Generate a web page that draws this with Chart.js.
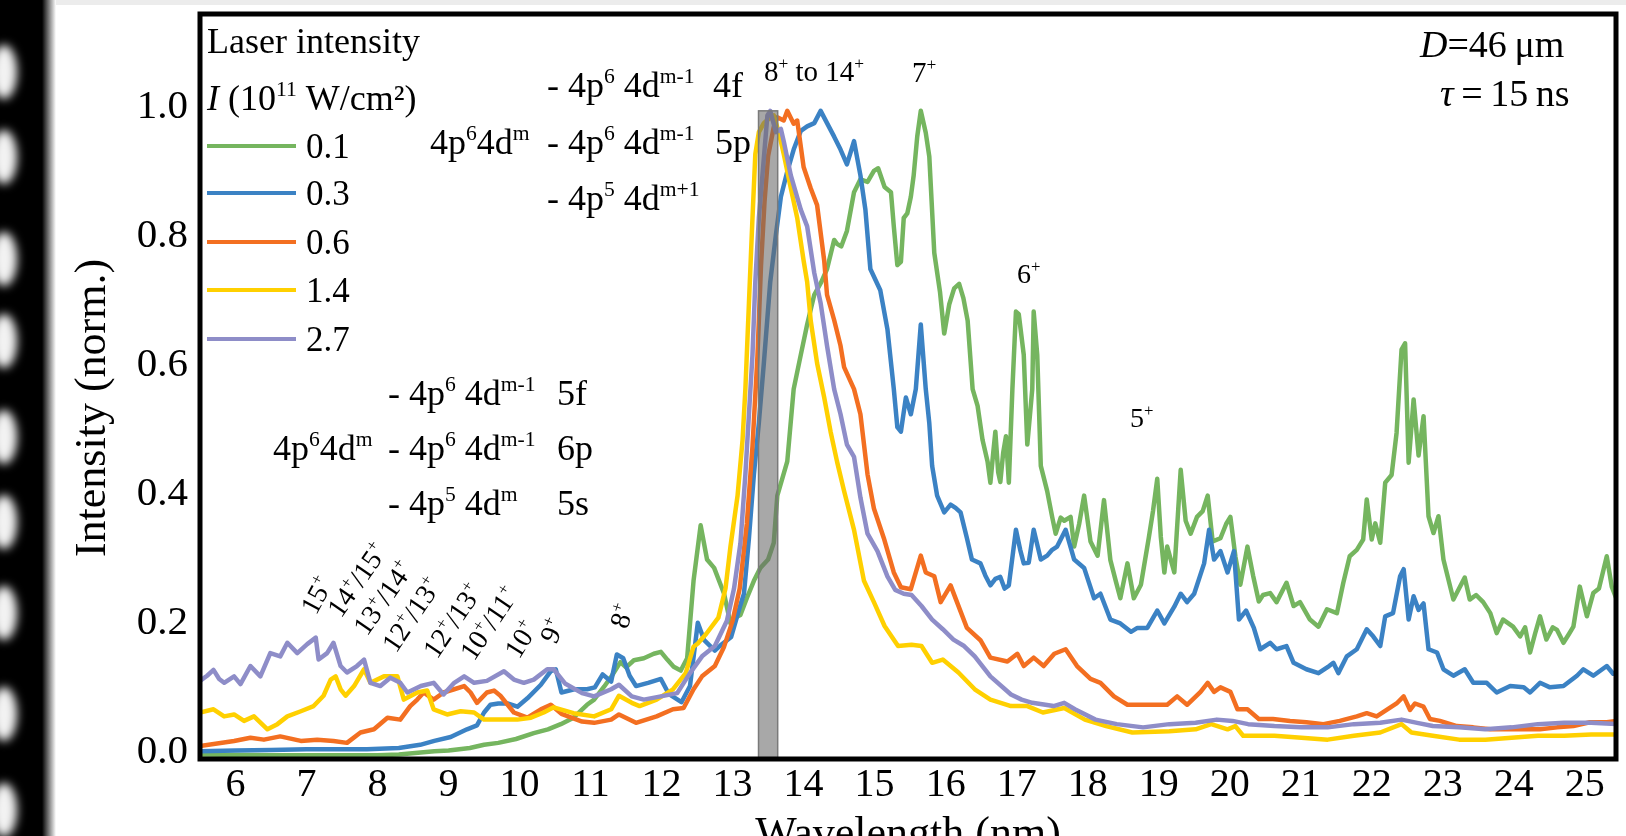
<!DOCTYPE html>
<html>
<head>
<meta charset="utf-8">
<script src="https://cdn.jsdelivr.net/npm/chart.js@4.4.0/dist/chart.umd.min.js"></script>
<style>
  html, body { margin: 0; padding: 0; background: #fff; }
  #wrap { width: 1626px; height: 836px; position: relative; }
</style>
</head>
<body>
<div id="wrap"><canvas id="spectra" width="1626" height="836"></canvas></div>
<script>
// [wavelength nm, normalised intensity], one list per laser intensity
const green01 = [[5.5,.003],[6.5,.002],[7.5,.002],[8.0,.002],[8.3,.003],[8.8,.008],[9.0,.009],[9.3,.013],[9.5,.018],[9.7,.021],[9.95,.027],[10.2,.036],[10.4,.042],[10.58,.05],[10.76,.06],[10.95,.08],[11.05,.088],[11.19,.108],[11.3,.125],[11.42,.146],[11.5,.138],[11.61,.149],[11.75,.152],[11.89,.159],[11.99,.162],[12.08,.15],[12.17,.139],[12.27,.133],[12.36,.152],[12.45,.272],[12.55,.358],[12.64,.305],[12.74,.292],[12.88,.252],[12.97,.206],[13.04,.215],[13.11,.219],[13.2,.245],[13.3,.272],[13.39,.292],[13.5,.305],[13.58,.331],[13.63,.404],[13.77,.457],[13.86,.569],[13.96,.622],[14.05,.669],[14.15,.715],[14.25,.735],[14.33,.755],[14.43,.8],[14.47,.794],[14.53,.79],[14.61,.814],[14.71,.874],[14.8,.894],[14.9,.89],[14.99,.907],[15.05,.911],[15.14,.882],[15.23,.874],[15.27,.821],[15.32,.761],[15.37,.766],[15.41,.834],[15.46,.841],[15.51,.867],[15.55,.9],[15.6,.96],[15.65,1.0],[15.72,.966],[15.77,.929],[15.84,.78],[15.92,.72],[15.98,.655],[16.05,.7],[16.12,.725],[16.19,.732],[16.25,.71],[16.31,.675],[16.38,.569],[16.45,.543],[16.52,.49],[16.59,.457],[16.63,.424],[16.67,.47],[16.7,.503],[16.74,.44],[16.77,.425],[16.81,.47],[16.85,.496],[16.89,.424],[16.94,.569],[16.99,.689],[17.03,.685],[17.1,.622],[17.15,.483],[17.22,.569],[17.24,.689],[17.29,.622],[17.34,.45],[17.43,.411],[17.5,.371],[17.55,.345],[17.62,.37],[17.67,.365],[17.76,.371],[17.81,.325],[17.88,.36],[17.95,.404],[18.04,.333],[18.14,.311],[18.23,.397],[18.32,.304],[18.4,.27],[18.46,.245],[18.56,.299],[18.65,.245],[18.75,.266],[18.86,.338],[18.92,.38],[18.98,.43],[19.03,.34],[19.08,.285],[19.12,.325],[19.22,.285],[19.31,.444],[19.38,.365],[19.45,.345],[19.54,.371],[19.62,.38],[19.69,.404],[19.76,.333],[19.87,.338],[19.95,.36],[20.01,.371],[20.08,.31],[20.15,.266],[20.25,.325],[20.33,.28],[20.41,.24],[20.47,.25],[20.57,.253],[20.66,.239],[20.8,.269],[20.9,.233],[20.99,.239],[21.13,.212],[21.25,.201],[21.37,.228],[21.51,.222],[21.6,.269],[21.69,.31],[21.79,.32],[21.88,.336],[21.93,.398],[22.0,.336],[22.05,.361],[22.12,.331],[22.19,.424],[22.28,.436],[22.35,.501],[22.42,.63],[22.47,.64],[22.52,.455],[22.59,.553],[22.66,.466],[22.73,.527],[22.8,.372],[22.87,.346],[22.94,.372],[23.01,.305],[23.15,.243],[23.23,.26],[23.31,.277],[23.38,.243],[23.47,.25],[23.57,.239],[23.67,.222],[23.76,.191],[23.85,.212],[23.99,.201],[24.09,.186],[24.16,.2],[24.23,.161],[24.3,.19],[24.37,.217],[24.46,.181],[24.55,.2],[24.61,.196],[24.7,.176],[24.78,.19],[24.84,.201],[24.93,.263],[24.98,.24],[25.03,.217],[25.12,.253],[25.2,.26],[25.31,.31],[25.38,.263],[25.45,.243]];

const blue03 = [[5.5,.008],[6.0,.009],[6.5,.01],[7.0,.011],[7.4,.011],[7.85,.011],[8.3,.013],[8.6,.018],[8.8,.024],[9.03,.03],[9.26,.042],[9.4,.048],[9.5,.068],[9.59,.08],[9.7,.082],[9.83,.082],[9.97,.077],[10.11,.09],[10.3,.111],[10.44,.132],[10.51,.135],[10.59,.099],[10.77,.104],[10.95,.104],[11.06,.107],[11.17,.127],[11.29,.116],[11.37,.158],[11.46,.152],[11.55,.125],[11.64,.109],[11.81,.114],[11.99,.12],[12.1,.097],[12.28,.084],[12.4,.109],[12.51,.207],[12.6,.18],[12.75,.164],[12.83,.172],[12.98,.185],[13.1,.231],[13.16,.252],[13.23,.338],[13.3,.437],[13.37,.517],[13.44,.609],[13.53,.735],[13.61,.808],[13.68,.867],[13.77,.906],[13.86,.94],[13.96,.969],[14.05,.976],[14.15,.981],[14.24,1.0],[14.33,.981],[14.43,.96],[14.52,.94],[14.61,.917],[14.71,.953],[14.8,.9],[14.87,.847],[14.94,.755],[15.08,.722],[15.18,.662],[15.27,.569],[15.32,.51],[15.37,.503],[15.44,.556],[15.51,.53],[15.58,.569],[15.65,.669],[15.72,.569],[15.77,.516],[15.81,.45],[15.88,.404],[15.98,.378],[16.07,.39],[16.14,.385],[16.21,.378],[16.3,.338],[16.37,.305],[16.49,.299],[16.56,.28],[16.63,.265],[16.7,.275],[16.77,.278],[16.83,.26],[16.89,.265],[16.99,.351],[17.05,.32],[17.1,.299],[17.17,.3],[17.24,.351],[17.34,.305],[17.43,.311],[17.5,.32],[17.57,.325],[17.69,.351],[17.81,.305],[17.95,.292],[18.09,.245],[18.18,.252],[18.32,.212],[18.46,.206],[18.61,.193],[18.7,.199],[18.84,.199],[18.98,.226],[19.08,.206],[19.22,.232],[19.31,.252],[19.4,.239],[19.5,.252],[19.64,.299],[19.71,.351],[19.78,.305],[19.87,.318],[19.97,.285],[20.06,.318],[20.13,.212],[20.23,.226],[20.34,.199],[20.43,.166],[20.57,.176],[20.66,.166],[20.8,.171],[20.9,.145],[21.08,.135],[21.25,.129],[21.4,.14],[21.46,.145],[21.53,.129],[21.65,.155],[21.79,.166],[21.93,.197],[22.02,.186],[22.12,.171],[22.19,.217],[22.3,.222],[22.4,.279],[22.45,.29],[22.52,.212],[22.59,.248],[22.66,.227],[22.73,.237],[22.8,.166],[22.92,.161],[23.01,.135],[23.15,.125],[23.31,.135],[23.43,.114],[23.62,.114],[23.76,.099],[23.95,.109],[24.14,.107],[24.23,.099],[24.37,.114],[24.51,.107],[24.7,.109],[24.89,.125],[24.98,.135],[25.12,.125],[25.31,.14],[25.4,.128],[25.45,.13]];

const orange06 = [[5.5,.016],[5.98,.024],[6.21,.029],[6.4,.026],[6.63,.031],[6.92,.024],[7.15,.026],[7.38,.024],[7.57,.021],[7.76,.037],[7.95,.042],[8.14,.06],[8.32,.057],[8.46,.078],[8.56,.088],[8.65,.099],[8.79,.088],[8.93,.099],[9.08,.104],[9.22,.109],[9.31,.099],[9.4,.083],[9.54,.099],[9.64,.102],[9.73,.094],[9.92,.068],[10.11,.06],[10.3,.073],[10.44,.08],[10.59,.066],[10.88,.054],[11.05,.052],[11.29,.057],[11.4,.065],[11.64,.052],[11.93,.062],[12.16,.073],[12.31,.075],[12.45,.104],[12.57,.124],[12.75,.14],[12.88,.17],[13.0,.21],[13.1,.26],[13.2,.36],[13.28,.48],[13.35,.62],[13.4,.76],[13.45,.86],[13.5,.93],[13.58,.975],[13.63,.99],[13.72,.985],[13.77,1.0],[13.86,.98],[13.91,.985],[14.0,.913],[14.1,.88],[14.19,.854],[14.29,.768],[14.33,.715],[14.43,.676],[14.52,.636],[14.57,.603],[14.71,.569],[14.8,.53],[14.9,.437],[14.99,.384],[15.13,.338],[15.27,.285],[15.37,.262],[15.51,.259],[15.65,.311],[15.72,.285],[15.84,.279],[15.93,.239],[16.07,.265],[16.16,.239],[16.3,.199],[16.49,.18],[16.63,.153],[16.87,.147],[17.01,.159],[17.1,.14],[17.24,.153],[17.38,.14],[17.53,.159],[17.69,.166],[17.85,.14],[18.04,.12],[18.18,.114],[18.37,.093],[18.56,.08],[18.75,.08],[18.93,.08],[19.12,.08],[19.26,.093],[19.4,.08],[19.59,.1],[19.69,.114],[19.78,.1],[19.87,.107],[20.01,.1],[20.11,.073],[20.25,.073],[20.41,.058],[20.61,.058],[20.85,.055],[21.08,.053],[21.32,.05],[21.55,.055],[21.79,.062],[21.93,.067],[22.07,.062],[22.21,.072],[22.35,.082],[22.45,.093],[22.54,.072],[22.61,.082],[22.73,.077],[22.82,.058],[22.96,.055],[23.2,.047],[23.43,.045],[23.67,.042],[23.9,.042],[24.14,.042],[24.37,.042],[24.61,.045],[24.84,.047],[25.07,.053],[25.31,.053],[25.45,.055]];

const yellow14 = [[5.5,.068],[5.69,.073],[5.84,.062],[5.98,.065],[6.12,.055],[6.26,.062],[6.45,.042],[6.59,.05],[6.73,.062],[6.92,.07],[7.1,.078],[7.24,.094],[7.34,.119],[7.41,.124],[7.48,.104],[7.55,.094],[7.67,.109],[7.81,.135],[7.9,.114],[8.09,.124],[8.28,.124],[8.37,.088],[8.56,.099],[8.7,.102],[8.79,.073],[8.98,.065],[9.17,.07],[9.36,.068],[9.5,.057],[9.73,.057],[9.97,.057],[10.16,.06],[10.34,.068],[10.48,.076],[10.76,.067],[11.05,.062],[11.29,.073],[11.4,.094],[11.58,.083],[11.69,.078],[11.93,.088],[12.16,.104],[12.34,.129],[12.45,.17],[12.51,.175],[12.63,.19],[12.8,.215],[12.9,.26],[12.97,.325],[13.07,.404],[13.14,.49],[13.18,.569],[13.23,.702],[13.28,.834],[13.32,.933],[13.37,.967],[13.44,.981],[13.49,.986],[13.58,.993],[13.65,.967],[13.72,.933],[13.82,.88],[13.91,.834],[14.0,.768],[14.05,.735],[14.1,.675],[14.19,.609],[14.29,.556],[14.38,.503],[14.47,.457],[14.57,.411],[14.71,.351],[14.85,.272],[14.99,.239],[15.14,.202],[15.33,.171],[15.52,.173],[15.66,.171],[15.81,.145],[15.96,.15],[16.18,.13],[16.41,.104],[16.63,.088],[16.92,.078],[17.15,.078],[17.37,.068],[17.67,.075],[17.96,.057],[18.26,.047],[18.63,.037],[19.15,.039],[19.52,.042],[19.74,.05],[19.97,.042],[20.08,.047],[20.19,.032],[20.63,.032],[21.01,.029],[21.38,.026],[21.75,.032],[22.12,.037],[22.42,.05],[22.56,.037],[22.86,.032],[23.23,.026],[23.6,.026],[23.97,.029],[24.34,.032],[24.71,.032],[25.09,.034],[25.45,.034]];

const purple27 = [[5.5,.117],[5.6,.125],[5.69,.134],[5.77,.12],[5.84,.114],[5.98,.124],[6.07,.112],[6.21,.14],[6.35,.124],[6.49,.16],[6.63,.155],[6.73,.176],[6.87,.16],[7.01,.174],[7.13,.184],[7.17,.15],[7.29,.16],[7.38,.176],[7.48,.14],[7.57,.13],[7.71,.14],[7.81,.15],[7.9,.114],[8.04,.109],[8.18,.122],[8.32,.114],[8.42,.099],[8.61,.109],[8.79,.114],[8.93,.096],[9.08,.114],[9.22,.124],[9.36,.114],[9.54,.117],[9.78,.132],[9.92,.119],[10.06,.114],[10.2,.119],[10.39,.135],[10.48,.135],[10.64,.113],[10.88,.098],[11.05,.093],[11.29,.104],[11.4,.111],[11.58,.093],[11.75,.088],[11.99,.093],[12.22,.098],[12.4,.129],[12.57,.155],[12.75,.171],[12.92,.21],[13.02,.26],[13.11,.33],[13.18,.437],[13.23,.53],[13.28,.622],[13.32,.735],[13.37,.834],[13.42,.9],[13.49,.993],[13.53,1.0],[13.61,.967],[13.68,.972],[13.72,.953],[13.82,.9],[13.96,.847],[14.05,.821],[14.15,.749],[14.24,.702],[14.33,.636],[14.43,.569],[14.52,.53],[14.61,.483],[14.71,.464],[14.8,.401],[14.9,.345],[15.04,.318],[15.18,.279],[15.29,.258],[15.41,.252],[15.52,.25],[15.66,.233],[15.81,.212],[15.96,.197],[16.11,.181],[16.26,.171],[16.41,.155],[16.63,.124],[16.92,.096],[17.07,.088],[17.22,.083],[17.52,.078],[17.67,.083],[17.82,.073],[18.11,.057],[18.41,.05],[18.78,.045],[19.15,.05],[19.52,.052],[19.82,.057],[20.04,.055],[20.26,.05],[20.63,.047],[21.01,.045],[21.38,.045],[21.75,.05],[22.12,.052],[22.42,.057],[22.64,.052],[22.86,.047],[23.23,.045],[23.6,.042],[23.97,.045],[24.34,.05],[24.71,.052],[25.09,.052],[25.45,.05]];

const intensityLabels = ["0.1", "0.3", "0.6", "1.4", "2.7"];
const xTicks = [6, 7, 8, 9, 10, 11, 12, 13, 14, 15, 16, 17, 18, 19, 20, 21, 22, 23, 24, 25];
const yTicks = [0, 0.2, 0.4, 0.6, 0.8, 1.0];
const euvBand = [13.365, 13.635]; // 2% bandwidth around 13.5 nm
const euvBandTop = 1.0;

const lineColors = ["#75b55f", "#3b82c4", "#f36f21", "#ffd000", "#8e8dc8"];
const FONT = "'Liberation Serif', 'Times New Roman', serif";

// split "4p^6 4d^{m-1}" into normal / superscript pieces
function parseSup(str) {
  const parts = [];
  const re = /\^\{([^}]*)\}|\^(.)/g;
  let last = 0, m;
  while ((m = re.exec(str))) {
    if (m.index > last) parts.push({ t: str.slice(last, m.index) });
    parts.push({ t: m[1] !== undefined ? m[1] : m[2], s: 1 });
    last = re.lastIndex;
  }
  if (last < str.length) parts.push({ t: str.slice(last) });
  return parts;
}

function drawRich(ctx, x, y, parts, size) {
  let cx = x;
  parts.forEach((p) => {
    const fs = p.s ? size * 0.6 : size;
    ctx.font = (p.i ? "italic " : "") + fs + "px " + FONT;
    ctx.fillText(p.t, cx, p.s ? y - size * 0.4 : y);
    cx += ctx.measureText(p.t).width;
  });
  return cx;
}

const decorPlugin = {
  id: "decor",
  beforeDraw(chart) {
    const ctx = chart.ctx;
    const H = chart.height;
    ctx.save();
    ctx.fillStyle = "#fff";
    ctx.fillRect(0, 0, chart.width, H);
    ctx.fillStyle = "#ececec";
    ctx.fillRect(0, 0, chart.width, 5);
    // film strip on the left edge
    ctx.fillStyle = "#000";
    ctx.fillRect(0, 0, 42, H);
    const g = ctx.createLinearGradient(42, 0, 56, 0);
    g.addColorStop(0, "#000");
    g.addColorStop(1, "#fff");
    ctx.fillStyle = g;
    ctx.fillRect(42, 0, 14, H);
    ctx.filter = "blur(5px)";
    ctx.fillStyle = "#f2f2f2";
    [72, 157, 259, 341, 437, 522, 613, 714, 810].forEach((cy) => {
      ctx.beginPath();
      ctx.ellipse(4, cy, 13, 27, 0, 0, Math.PI * 2);
      ctx.fill();
    });
    ctx.filter = "none";
    ctx.restore();
  },
  afterDatasetsDraw(chart) {
    const ctx = chart.ctx;
    const { left, right, top, bottom } = chart.chartArea;
    const xs = chart.scales.x, ys = chart.scales.y;
    const x0 = xs.getPixelForValue(euvBand[0]);
    const x1 = xs.getPixelForValue(euvBand[1]);
    const yt = ys.getPixelForValue(euvBandTop);
    ctx.save();
    ctx.fillStyle = "rgba(105,105,105,0.58)";
    ctx.fillRect(x0, yt, x1 - x0, bottom - yt);
    ctx.strokeStyle = "#7a7a7a";
    ctx.lineWidth = 1.5;
    ctx.strokeRect(x0, yt, x1 - x0, bottom - yt);
    ctx.strokeStyle = "#000";
    ctx.lineWidth = 5;
    ctx.strokeRect(left, top, right - left, bottom - top);
    ctx.restore();
  },
  afterDraw(chart) {
    const ctx = chart.ctx;
    ctx.save();
    ctx.fillStyle = "#000";
    ctx.textAlign = "left";
    ctx.textBaseline = "alphabetic";

    // legend
    drawRich(ctx, 207, 53, [{ t: "Laser intensity" }], 36);
    drawRich(ctx, 207, 110, [{ t: "I", i: 1 }, { t: " (10" }, { t: "11", s: 1 }, { t: " W/cm²)" }], 36);
    const legendY = [146, 193, 242, 290, 339];
    intensityLabels.forEach((lab, i) => {
      ctx.strokeStyle = lineColors[i];
      ctx.lineWidth = 4;
      ctx.beginPath();
      ctx.moveTo(207, legendY[i]);
      ctx.lineTo(296, legendY[i]);
      ctx.stroke();
      drawRich(ctx, 306, legendY[i] + 12, [{ t: lab }], 35);
    });

    // target parameters
    drawRich(ctx, 1420, 57, [{ t: "D", i: 1 }, { t: "=46\u2009μm" }], 38);
    drawRich(ctx, 1440, 106, [{ t: "τ", i: 1 }, { t: "\u2009=\u200915\u2009ns" }], 38);

    // transition arrays, 4f / 5p band
    const S = 36;
    drawRich(ctx, 547, 97, parseSup("- 4p^6 4d^{m-1}"), S);
    drawRich(ctx, 713, 97, parseSup("4f"), S);
    drawRich(ctx, 430, 154, parseSup("4p^64d^m"), S);
    drawRich(ctx, 547, 154, parseSup("- 4p^6 4d^{m-1}"), S);
    drawRich(ctx, 715, 154, parseSup("5p"), S);
    drawRich(ctx, 547, 210, parseSup("- 4p^5 4d^{m+1}"), S);

    // transition arrays, 5f / 6p / 5s
    drawRich(ctx, 388, 405, parseSup("- 4p^6 4d^{m-1}"), S);
    drawRich(ctx, 557, 405, parseSup("5f"), S);
    drawRich(ctx, 273, 460, parseSup("4p^64d^m"), S);
    drawRich(ctx, 388, 460, parseSup("- 4p^6 4d^{m-1}"), S);
    drawRich(ctx, 557, 460, parseSup("6p"), S);
    drawRich(ctx, 388, 515, parseSup("- 4p^5 4d^m"), S);
    drawRich(ctx, 557, 515, parseSup("5s"), S);

    // charge states
    drawRich(ctx, 764, 81, parseSup("8^+ to 14^+"), 29);
    drawRich(ctx, 912, 82, parseSup("7^+"), 29);
    drawRich(ctx, 1017, 283, parseSup("6^+"), 28);
    drawRich(ctx, 1130, 427, parseSup("5^+"), 28);

    const rotated = [
      ["15^+", 316, 616, 62],
      ["14^+/15^+", 341, 619, 55],
      ["13^+/14^+", 367, 637, 55],
      ["12^+/13^+", 396, 654, 56],
      ["12^+/13^+", 437, 660, 56],
      ["10^+/11^+", 474, 662, 56],
      ["10^+", 519, 660, 58],
      ["9^+", 556, 645, 66],
      ["8^+", 627, 630, 72],
    ];
    rotated.forEach(([txt, x, y, ang]) => {
      ctx.save();
      ctx.translate(x, y);
      ctx.rotate((-ang * Math.PI) / 180);
      drawRich(ctx, 0, 0, parseSup(txt), 28);
      ctx.restore();
    });

    // axis titles
    ctx.font = "44px " + FONT;
    ctx.textAlign = "center";
    ctx.fillText("Wavelength (nm)", 908, 847);
    ctx.save();
    ctx.translate(93, 408);
    ctx.rotate(-Math.PI / 2);
    ctx.textBaseline = "middle";
    ctx.fillText("Intensity (norm.)", 0, 0);
    ctx.restore();

    ctx.restore();
  },
};

const seriesData = [green01, blue03, orange06, yellow14, purple27];

const datasets = seriesData.map((pts, i) => ({
  label: intensityLabels[i],
  data: pts.map(([x, y]) => ({ x: x, y: y })),
  borderColor: lineColors[i],
  backgroundColor: lineColors[i],
  borderWidth: 4.5,
  pointRadius: 0,
  tension: 0,
  borderJoinStyle: "round",
  fill: false,
  order: seriesData.length - i,
}));

// keep the plot box where the figure has it: no extra room for edge labels
function noEdgePadding(scale) {
  scale.paddingTop = 0;
  scale.paddingBottom = 0;
  scale.paddingLeft = 0;
  scale.paddingRight = 0;
}

const ctx = document.getElementById("spectra").getContext("2d");
new Chart(ctx, {
  type: "line",
  data: { datasets: datasets },
  options: {
    responsive: false,
    animation: false,
    devicePixelRatio: 1,
    layout: { padding: { left: 0, right: 10, top: 14, bottom: 0 } },
    plugins: { legend: { display: false }, tooltip: { enabled: false } },
    scales: {
      x: {
        type: "linear",
        min: 5.5,
        max: 25.44,
        grid: { display: false, drawTicks: false },
        border: { display: false },
        afterBuildTicks: (scale) => {
          scale.ticks = xTicks.map((v) => ({ value: v }));
        },
        afterFit: (scale) => {
          scale.height = 77;
          noEdgePadding(scale);
        },
        ticks: {
          autoSkip: false,
          maxRotation: 0,
          padding: 2,
          color: "#000",
          font: { family: FONT, size: 40 },
          callback: (v) => String(v),
        },
      },
      y: {
        min: -0.004,
        max: 1.15,
        grid: { display: false, drawTicks: false },
        border: { display: false },
        afterBuildTicks: (scale) => {
          scale.ticks = yTicks.map((v) => ({ value: v }));
        },
        afterFit: (scale) => {
          scale.width = 200;
          noEdgePadding(scale);
        },
        ticks: {
          padding: 12,
          labelOffset: -4,
          color: "#000",
          font: { family: FONT, size: 41 },
          callback: (v) => Number(v).toFixed(1),
        },
      },
    },
  },
  plugins: [decorPlugin],
});
</script>
</body>
</html>
